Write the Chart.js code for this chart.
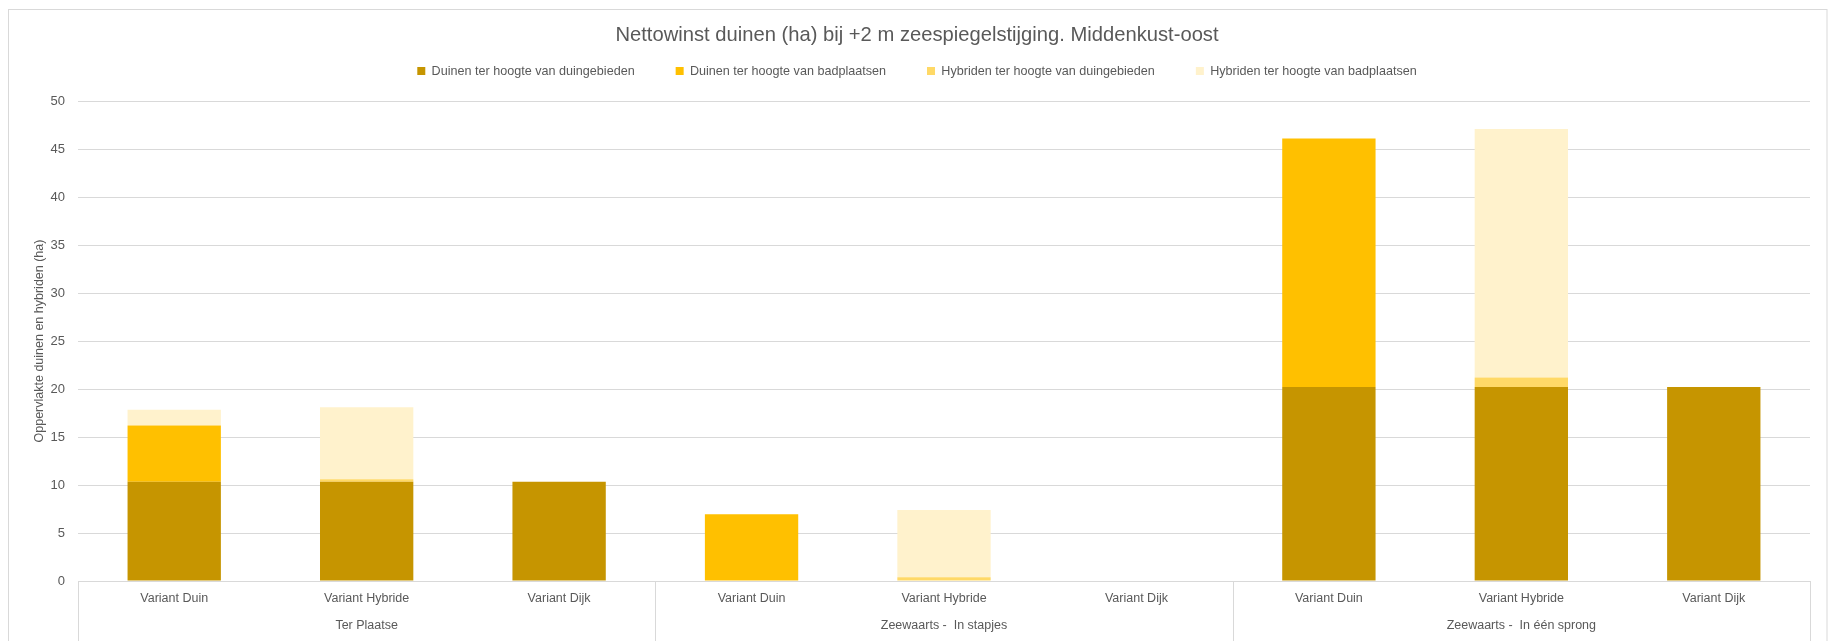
<!DOCTYPE html>
<html>
<head>
<meta charset="utf-8">
<script src="https://cdn.jsdelivr.net/npm/chart.js@4.4.1/dist/chart.umd.min.js"></script>
<style>
  html, body { margin: 0; padding: 0; background: #ffffff; }
  #wrap { position: relative; width: 1828px; height: 641px; }
</style>
</head>
<body>
<div id="wrap"><canvas id="c" width="1828" height="641"></canvas></div>
<script>
// ---- data ----
const categories = ['Variant Duin', 'Variant Hybride', 'Variant Dijk',
                    'Variant Duin', 'Variant Hybride', 'Variant Dijk',
                    'Variant Duin', 'Variant Hybride', 'Variant Dijk'];
const groups = ['Ter Plaatse', 'Zeewaarts -  In stapjes', 'Zeewaarts -  In één sprong'];
const duinenDuingebieden   = [10.35, 10.35, 10.35, 0, 0, 0, 20.2, 20.2, 20.2];
const duinenBadplaatsen    = [5.85, 0, 0, 6.95, 0, 0, 25.9, 0, 0];
const hybridenDuingebieden = [0, 0.25, 0, 0, 0.4, 0, 0, 1.0, 0];
const hybridenBadplaatsen  = [1.65, 7.5, 0, 0, 7.0, 0, 0, 25.9, 0];
const seriesNames = ['Duinen ter hoogte van duingebieden', 'Duinen ter hoogte van badplaatsen',
                     'Hybriden ter hoogte van duingebieden', 'Hybriden ter hoogte van badplaatsen'];
const yTicks = [0, 5, 10, 15, 20, 25, 30, 35, 40, 45, 50];
const chartTitle = 'Nettowinst duinen (ha) bij +2 m zeespiegelstijging. Middenkust-oost';
const yTitle = 'Oppervlakte duinen en hybriden (ha)';

const colors = ['#C69500', '#FFC000', '#FFD966', '#FFF2CC'];
const textColor = '#595959';
const lineColor = '#D9D9D9';

Chart.defaults.font.family = "'Liberation Sans', Arial, sans-serif";
Chart.defaults.color = textColor;

const LEGEND_TOP = 23.7;
const LEGEND_BOTTOM = 101;

const layoutPlugin = {
  id: 'layoutTweaks',
  beforeLayout(chart) {
    const lg = chart.legend;
    if (lg && !lg._patched) {
      const orig = lg.fit;
      lg.fit = function () {
        orig.call(this);
        this.height = LEGEND_BOTTOM - LEGEND_TOP;
      };
      lg._patched = true;
    }
  },
  beforeDraw(chart) {
    const ctx = chart.ctx;
    ctx.save();
    ctx.strokeStyle = lineColor;
    ctx.lineWidth = 1;
    ctx.strokeRect(8.5, 9.5, chart.width - 9.5, chart.height + 20);
    ctx.restore();
  },
  afterDraw(chart) {
    const x2 = chart.scales.x2;
    const ctx = chart.ctx;
    const n = groups.length;
    ctx.save();
    ctx.strokeStyle = lineColor;
    ctx.lineWidth = 1;
    for (let k = 0; k <= n; k++) {
      const px = Math.round(x2.left + k * (x2.width / n)) + 0.5;
      ctx.beginPath();
      ctx.moveTo(px, chart.chartArea.bottom);
      ctx.lineTo(px, chart.height);
      ctx.stroke();
    }
    ctx.restore();
  }
};

const seriesData = [duinenDuingebieden, duinenBadplaatsen, hybridenDuingebieden, hybridenBadplaatsen];

new Chart(document.getElementById('c'), {
  type: 'bar',
  data: {
    labels: categories,
    datasets: seriesData.map((d, i) => ({
      label: seriesNames[i],
      data: d,
      backgroundColor: colors[i],
      borderWidth: 0,
      barPercentage: 0.485,
      categoryPercentage: 1.0,
      xAxisID: 'x',
      yAxisID: 'y'
    }))
  },
  options: {
    responsive: false,
    animation: false,
    layout: { padding: { left: 24, right: 18, top: 0, bottom: 0 } },
    plugins: {
      title: {
        display: true,
        text: chartTitle,
        color: textColor,
        font: { size: 20.2, weight: 'normal' },
        padding: { top: 23, bottom: -23.5 }
      },
      legend: {
        display: true,
        position: 'top',
        labels: {
          boxWidth: 8,
          boxHeight: 8,
          padding: 41,
          color: textColor,
          font: { size: 12.6 }
        }
      },
      tooltip: { enabled: false }
    },
    scales: {
      x: {
        type: 'category',
        stacked: true,
        position: 'bottom',
        weight: 0,
        offset: true,
        grid: { display: false, drawTicks: false },
        border: { display: true, color: lineColor, width: 1 },
        ticks: { color: textColor, font: { size: 12.5 }, padding: 10, maxRotation: 0, autoSkip: false },
        afterFit(s) { s.height = 30; }
      },
      x2: {
        type: 'category',
        labels: groups,
        position: 'bottom',
        weight: 1,
        offset: true,
        grid: { display: false, drawTicks: false },
        border: { display: false },
        ticks: { color: textColor, font: { size: 12.5 }, padding: 7, maxRotation: 0, autoSkip: false },
        afterFit(s) { s.height = 30; }
      },
      y: {
        stacked: true,
        min: 0,
        max: 50,
        afterBuildTicks(s) { s.ticks = yTicks.map(v => ({ value: v })); },
        grid: { color: lineColor, lineWidth: 1, drawTicks: false },
        border: { display: false },
        ticks: { color: textColor, font: { size: 13 }, padding: 13 },
        title: {
          display: true,
          text: yTitle,
          color: textColor,
          font: { size: 12.5 },
          padding: { top: 8, bottom: 0 }
        },
        afterFit(s) { s.width = 54; }
      }
    }
  },
  plugins: [layoutPlugin]
});
</script>
</body>
</html>
